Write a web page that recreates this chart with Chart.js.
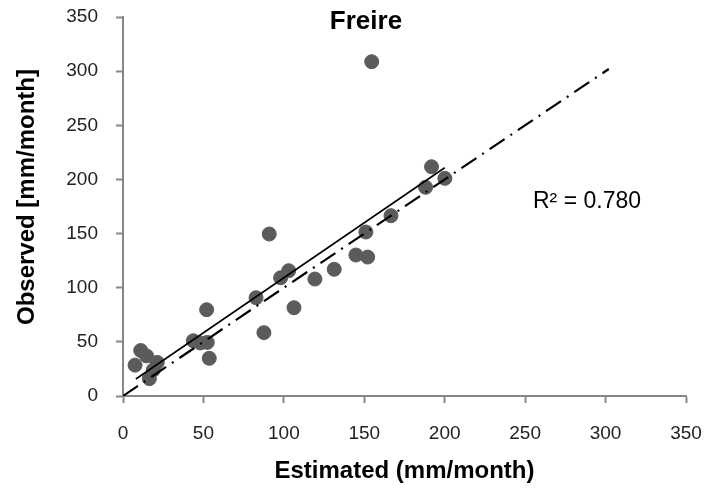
<!DOCTYPE html>
<html>
<head>
<meta charset="utf-8">
<title>Freire</title>
<script src="https://cdn.jsdelivr.net/npm/chart.js@4.4.1/dist/chart.umd.min.js"></script>
<style>
  html, body { margin: 0; padding: 0; background: #fff; }
  #wrap { width: 704px; height: 489px; }
</style>
</head>
<body>
<div id="wrap"><canvas id="chart" width="704" height="489"></canvas></div>
<script>
const estimated = [7.5, 11, 14.7, 16.4, 18.8, 21.3, 43.7, 48, 52, 52.4, 53.6,
    82.7, 87.6, 90.9, 98, 103, 106.3, 119.3, 131.3, 144.8, 151, 152.1, 154.6,
    166.6, 188.1, 191.8, 200.1];
const observed = [28.5, 42, 37, 16, 24, 31, 51, 49, 79.7, 49.5, 34.8,
    90.8, 58.5, 149.6, 109.2, 115.7, 81.5, 108, 117, 130.2, 151.4, 128.3, 308.7,
    166.5, 192.7, 211.7, 201];

// Linear trend line (end points) and the 1:1 line
const trendX = [8, 200];
const trendY = [15.7, 210.8];
const oneToOneX = [0, 302];
const oneToOneY = [0, 302];

// Axes
const axisMin = 0;
const axisMax = 350;
const axisStep = 50;

const chartTitle = 'Freire';
const xTitle = 'Estimated (mm/month)';
const yTitle = 'Observed [mm/month]';
const r2Label = 'R\u00B2 = 0.780';

const FONT = '"Liberation Sans", Arial, sans-serif';
const AXIS_GREY = '#868686';

function toPoints(xs, ys) {
    return xs.map((x, i) => ({ x: x, y: ys[i] }));
}

// Draws title, R² note and axis titles
const textPlugin = {
    id: 'textPlugin',
    afterDraw(chart) {
        const ctx = chart.ctx;
        const area = chart.chartArea;
        ctx.save();
        ctx.fillStyle = '#000';

        ctx.font = 'bold 26px ' + FONT;
        ctx.textAlign = 'center';
        ctx.textBaseline = 'middle';
        ctx.fillText(chartTitle, 366, 22);

        ctx.font = '23px ' + FONT;
        ctx.textAlign = 'left';
        ctx.textBaseline = 'alphabetic';
        ctx.fillText(r2Label, 533, 208);

        ctx.font = 'bold 24px ' + FONT;
        ctx.textAlign = 'center';
        ctx.textBaseline = 'alphabetic';
        ctx.fillText(xTitle, (area.left + area.right) / 2, 478);

        ctx.textBaseline = 'middle';
        ctx.translate(27, 197);
        ctx.rotate(-Math.PI / 2);
        ctx.fillText(yTitle, 0, 0);
        ctx.restore();
    }
};

const axisOptions = (fitFn) => ({
    type: 'linear',
    min: axisMin,
    max: axisMax,
    ticks: {
        stepSize: axisStep,
        color: '#222',
        font: { family: FONT, size: 19 },
        padding: 18
    },
    grid: {
        drawOnChartArea: false,
        drawTicks: true,
        tickLength: 7,
        tickWidth: 2,
        color: AXIS_GREY
    },
    border: { color: AXIS_GREY, width: 2 },
    afterFit: fitFn
});

// fixed axis boxes, and no extra room for the end labels
const xAxis = axisOptions(scale => {
    scale.height = 93;
    scale.paddingLeft = 0;
    scale.paddingRight = 0;
});
xAxis.position = 'bottom';
xAxis.ticks.padding = 19;
const yAxis = axisOptions(scale => {
    scale.width = 123;
    scale.paddingTop = 0;
    scale.paddingBottom = 0;
});
yAxis.position = 'left';

new Chart(document.getElementById('chart'), {
    type: 'scatter',
    data: {
        datasets: [
            {
                label: 'Observed',
                data: toPoints(estimated, observed),
                backgroundColor: '#5b5b5b',
                borderColor: '#5b5b5b',
                pointRadius: 7,
                pointHoverRadius: 7,
                order: 3
            },
            {
                label: 'Trend',
                type: 'line',
                data: toPoints(trendX, trendY),
                borderColor: '#000',
                borderWidth: 1.6,
                pointRadius: 0,
                fill: false,
                order: 1
            },
            {
                label: '1:1',
                type: 'line',
                data: toPoints(oneToOneX, oneToOneY),
                borderColor: '#000',
                borderWidth: 2.2,
                borderDash: [18, 7, 2, 7],
                pointRadius: 0,
                fill: false,
                order: 2
            }
        ]
    },
    options: {
        responsive: false,
        animation: false,
        layout: { padding: { top: 17, right: 18, left: 0, bottom: 0 } },
        plugins: {
            legend: { display: false },
            tooltip: { enabled: false },
            title: { display: false }
        },
        scales: { x: xAxis, y: yAxis }
    },
    plugins: [textPlugin]
});
</script>
</body>
</html>
